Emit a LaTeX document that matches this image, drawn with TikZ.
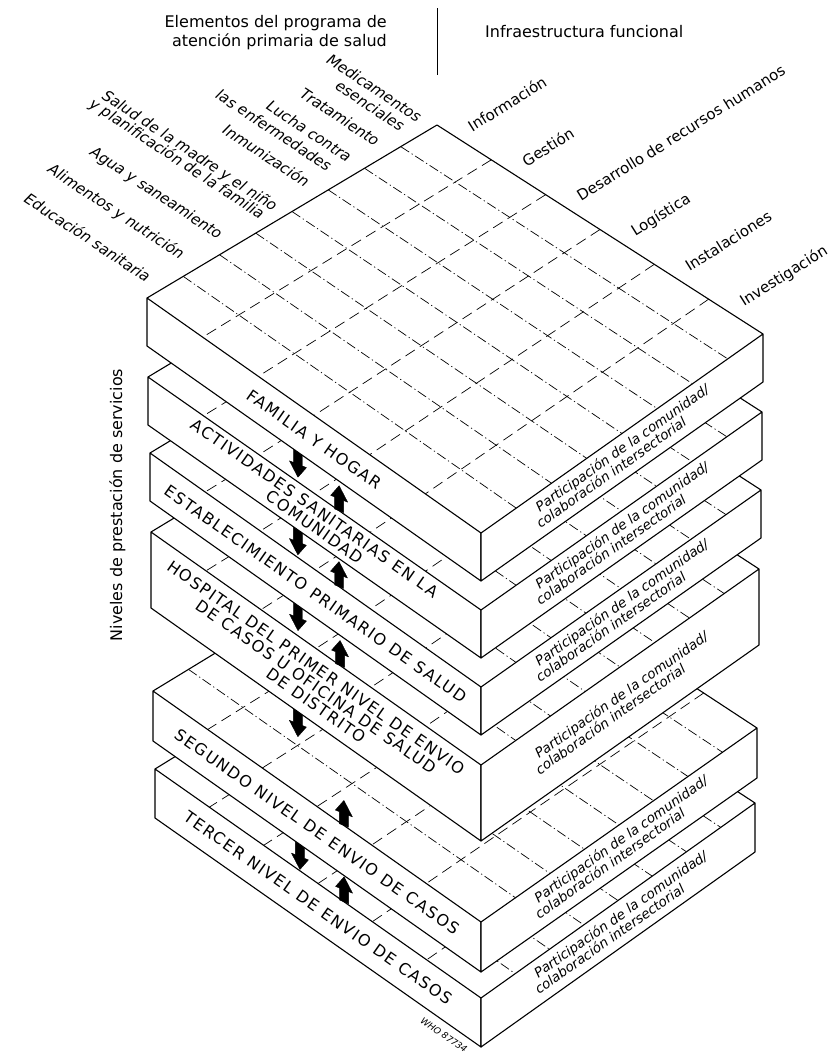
\documentclass[tikz,border=0pt]{standalone}
\usepackage{fontspec}
\setmainfont{DejaVu Sans}
\newfontfamily\capsfont[LetterSpace=10]{DejaVu Sans}
\usetikzlibrary{calc}

% slab coordinates: name, Lx, Ly, Fy, Rx, Ry, thickness, Ty
\newcommand\slabdef[8]{%
  \coordinate (#1T) at (437,#8);
  \coordinate (#1L) at (#2,#3);
  \coordinate (#1F) at (481,#4);
  \coordinate (#1R) at (#5,#6);
  \coordinate (#1Lb) at ($(#1L)+(0,#7)$);
  \coordinate (#1Fb) at ($(#1F)+(0,#7)$);
  \coordinate (#1Rb) at ($(#1R)+(0,#7)$);
  \coordinate (#1c) at ($(#1L)!0.5!(#1F)+(0,#7/2)$);
  \coordinate (#1r) at ($(#1F)!0.2!(#1R)+(0,#7/2-8)$);
}
\newcommand\slabdraw[1]{%
  \fill[white] (#1T) -- (#1R) -- (#1F) -- (#1L) -- cycle;
  \begin{scope}
    \clip (#1T) -- (#1R) -- (#1F) -- (#1L) -- cycle;
    \foreach \i in {1,...,5}{\draw[gridA] ($(#1T)!\i/6!(#1R)$) -- ($(#1L)!\i/6!(#1F)$);}
    \foreach \i in {1,...,7}{\draw[gridB] ($(#1T)!\i/8!(#1L)$) -- ($(#1R)!\i/8!(#1F)$);}
  \end{scope}
  \draw[edge] (#1L) -- (#1T) -- (#1R);
  \filldraw[face] (#1L) -- (#1F) -- (#1Fb) -- (#1Lb) -- cycle;
  \filldraw[face] (#1F) -- (#1R) -- (#1Rb) -- (#1Fb) -- cycle;
  \node[partlab] (#1p1) at (#1r) {Participación de la comunidad/};
  \node[partlab] (#1p2) at ($(#1r)+(0,15)$) {colaboración intersectorial};
}
\newcommand\arrdown[1]{%
  \begin{scope}[shift={(#1)}, yslant=-0.4]
    \filldraw[blockarrow] (-4.5,-3) -- (4.5,-3) -- (4.5,12) -- (8.5,12) -- (0,25) -- (-8.5,12) -- (-4.5,12) -- cycle;
  \end{scope}}
\newcommand\arrup[1]{%
  \begin{scope}[shift={(#1)}, yslant=-0.4]
    \filldraw[blockarrow] (-4.5,0) -- (4.5,0) -- (4.5,-12) -- (8.5,-12) -- (0,-25) -- (-8.5,-12) -- (-4.5,-12) -- cycle;
  \end{scope}}

\begin{document}
\begin{tikzpicture}[x=1pt,y=-1pt,
  edge/.style={line width=1.1pt, line join=round},
  face/.style={edge, fill=white},
  gridA/.style={line width=0.7pt, dash pattern=on 11pt off 6pt},
  gridB/.style={line width=0.7pt, dash pattern=on 10pt off 3pt on 1.2pt off 3pt},
  blockarrow/.style={fill=black, draw=black, line width=0.4pt, line join=round},
  title/.style={font=\fontsize{16}{19}\selectfont, inner sep=0pt},
  llab/.style={font=\fontsize{15}{18}\selectfont\itshape, inner sep=0pt, anchor=base east, rotate=-33.5},
  rlab/.style={font=\fontsize{15}{18}\selectfont, inner sep=0pt, anchor=base west, rotate=32},
  facelab/.style={font=\capsfont\fontsize{16}{19}\selectfont, inner sep=0pt, rotate=-35.1},
  partlab/.style={font=\fontsize{13.5}{16}\selectfont\itshape, inner sep=0pt, anchor=west, rotate=35.2}
]
\fill[white] (0,0) rectangle (832,1055);
\useasboundingbox (0,0) rectangle (832,1055);

% ---------- slab geometry ----------
\slabdef{sa}{147}{298}{533}{763}{334}{48}{125}
\slabdef{sb}{148}{377}{610}{762}{412}{48}{203}
\slabdef{sc}{150}{453}{687}{761}{490}{48}{280}
\slabdef{sd}{151}{532}{765}{759}{569}{76}{359}
\slabdef{se}{153}{691}{922}{757}{728}{50}{518}
\slabdef{sf}{155}{769}{998}{755}{803}{49}{595}

% arrow anchor points
\coordinate (darr1) at ($(saLb)!0.452!(saFb)$);
\coordinate (uarr1) at ($(sbL)!0.574!(sbF)$);
\coordinate (darr2) at ($(sbLb)!0.450!(sbFb)$);
\coordinate (uarr2) at ($(scL)!0.571!(scF)$);
\coordinate (darr3) at ($(scLb)!0.447!(scFb)$);
\coordinate (uarr3) at ($(sdL)!0.573!(sdF)$);
\coordinate (darr4) at ($(sdLb)!0.445!(sdFb)$);
\coordinate (uarr4) at ($(seL)!0.582!(seF)$);
\coordinate (darr5) at ($(seLb)!0.448!(seFb)$);
\coordinate (uarr5) at ($(sfL)!0.580!(sfF)$);

% ---------- draw slabs bottom to top ----------
\slabdraw{sf}
\arrup{uarr5}\arrdown{darr5}
\slabdraw{se}
\arrup{uarr4}\arrdown{darr4}
\slabdraw{sd}
\arrup{uarr3}\arrdown{darr3}
\slabdraw{sc}
\arrup{uarr2}\arrdown{darr2}
\slabdraw{sb}
\arrup{uarr1}\arrdown{darr1}
\slabdraw{sa}

% ---------- level labels on the left faces ----------
\node[facelab] (lv1) at (sac) {FAMILIA Y HOGAR};
\node[facelab] (lv2a) at ($(sbc)+(0,-9.5)$) {ACTIVIDADES SANITARIAS EN LA};
\node[facelab] (lv2b) at ($(sbc)+(0,9.5)$) {COMUNIDAD};
\node[facelab] (lv3) at (scc) {ESTABLECIMIENTO PRIMARIO DE SALUD};
\node[facelab] (lv4a) at ($(sdc)+(0,-19)$) {HOSPITAL DEL PRIMER NIVEL DE ENVIO};
\node[facelab] (lv4b) at (sdc) {DE CASOS U OFICINA DE SALUD};
\node[facelab] (lv4c) at ($(sdc)+(0,19)$) {DE DISTRITO};
\node[facelab] (lv5) at (sec) {SEGUNDO NIVEL DE ENVIO DE CASOS};
\node[facelab] (lv6) at (sfc) {TERCER NIVEL DE ENVIO DE CASOS};

% ---------- headings ----------
\node[title, anchor=base east] (h1) at (387,27.5) {Elementos del programa de};
\node[title, anchor=base east] (h2) at (387,46.5) {atención primaria de salud};
\node[title, anchor=base west] (h3) at (485,37.5) {Infraestructura funcional};
\coordinate (dv1) at (437,8);
\coordinate (dv2) at (437,75);
\draw[line width=1pt] (dv1) -- (dv2);
\node[title, rotate=90, anchor=base] (niv) at (122,505) {Niveles de prestación de servicios};

% ---------- programme elements (left) ----------
\node[llab] (e1a) at (417,123) {Medicamentos};
\node[llab] (e1b) at (400,132) {esenciales};
\node[llab] (e2) at (375,147) {Tratamiento};
\node[llab] (e3a) at (347,163) {Lucha contra};
\node[llab] (e3b) at (327,172) {las enfermedades};
\node[llab] (e4) at (305,188) {Inmunización};
\node[llab] (e5a) at (273,212) {Salud de la madre y el niño};
\node[llab] (e5b) at (260,220) {y planificación de la familia};
\node[llab] (e6) at (218,240) {Agua y saneamiento};
\node[llab] (e7) at (180,260) {Alimentos y nutrición};
\node[llab] (e8) at (146,283) {Educación sanitaria};

% ---------- infrastructure (right) ----------
\node[rlab] (i1) at ($(saT)!0.5/6!(saR)+(8,-10)$) {Información};
\node[rlab] (i2) at ($(saT)!1.5/6!(saR)+(8,-10)$) {Gestión};
\node[rlab] (i3) at ($(saT)!2.5/6!(saR)+(8,-10)$) {Desarrollo de recursos humanos};
\node[rlab] (i4) at ($(saT)!3.5/6!(saR)+(8,-10)$) {Logística};
\node[rlab] (i5) at ($(saT)!4.5/6!(saR)+(8,-10)$) {Instalaciones};
\node[rlab] (i6) at ($(saT)!5.5/6!(saR)+(8,-10)$) {Investigación};

% ---------- reference number ----------
\node[font=\fontsize{9}{10}\selectfont\itshape, inner sep=0pt, rotate=-35] (who) at (444,1035) {WHO 87734};
\end{tikzpicture}
\end{document}
